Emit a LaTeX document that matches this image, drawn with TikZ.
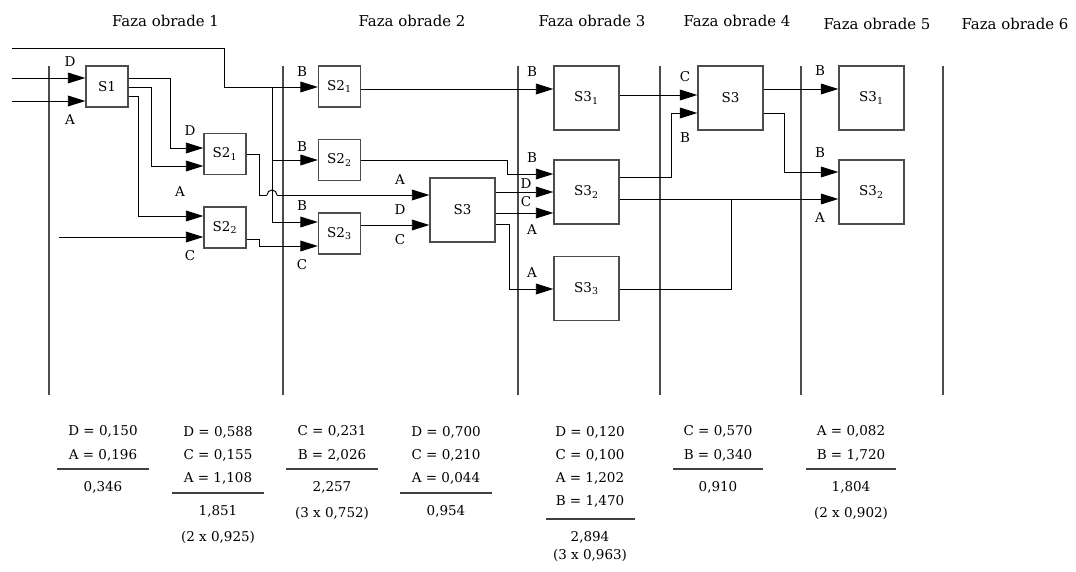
\documentclass[tikz,border=0pt]{standalone}
\usepackage{fontspec}
\setmainfont{DejaVu Serif}
\usetikzlibrary{arrows.meta}
\newcommand{\lblfont}{\fontsize{9.6pt}{16.5pt}\selectfont}
\newcommand{\hdrfont}{\fontsize{10.6pt}{13pt}\selectfont}

\begin{document}
\begin{tikzpicture}[x=0.025cm, y=-0.025cm, line width=0.7pt,
	box/.style={draw=black!70, line width=0.9pt, inner sep=0pt, minimum width=1.05cm, minimum height=1.03cm, font=\lblfont},
	bigbox/.style={box, minimum width=1.625cm, minimum height=1.6cm},
	arr/.style={-{Triangle[length=0.44cm, width=0.27cm]}},
	lbl/.style={inner sep=0pt, font=\lblfont},
	faza/.style={draw=black!70, line width=0.9pt},
	crta/.style={draw=black!75, line width=0.8pt},
	zaglavlje/.style={inner sep=0pt, font=\hdrfont},
	tab/.style={inner sep=0pt, align=center, font=\lblfont}]
	\useasboundingbox (0,0) rectangle (1076,571);

	\node[zaglavlje] (h1) at (165.5,21) {Faza obrade 1};
	\node[zaglavlje] (h2) at (412,21) {Faza obrade 2};
	\node[zaglavlje] (h3) at (592,21) {Faza obrade 3};
	\node[zaglavlje] (h4) at (737,21) {Faza obrade 4};
	\node[zaglavlje] (h5) at (877,24) {Faza obrade 5};
	\node[zaglavlje] (h6) at (1015,24) {Faza obrade 6};

	\foreach \x in {49,283,518,660,801,943}
		\draw[faza] (\x,66) -- (\x,395);

	\node[box] (s1) at (107,86.5) {S1};
	\node[box] (s21a) at (225,154) {S2\textsubscript{1}};
	\node[box] (s22a) at (225,227.5) {S2\textsubscript{2}};
	\node[box] (s21b) at (339.5,86.5) {S2\textsubscript{1}};
	\node[box] (s22b) at (339.5,160) {S2\textsubscript{2}};
	\node[box] (s23b) at (339.5,233.5) {S2\textsubscript{3}};
	\node[bigbox] (s3b) at (462.5,210) {S3};
	\node[bigbox] (s31c) at (586.5,98) {S3\textsubscript{1}};
	\node[bigbox] (s32c) at (586.5,192) {S3\textsubscript{2}};
	\node[bigbox] (s33c) at (586.5,288.5) {S3\textsubscript{3}};
	\node[bigbox] (s3d) at (730.5,98) {S3};
	\node[bigbox] (s31e) at (871.5,98) {S3\textsubscript{1}};
	\node[bigbox] (s32e) at (871.5,192) {S3\textsubscript{2}};

	\coordinate (ulazB) at (12,48);
	\coordinate (ulazD) at (12,78);
	\coordinate (ulazA) at (12,101);
	\coordinate (ulazC) at (59,237);
	\coordinate (grana) at (272,87);
	\coordinate (skokL) at (267,195);
	\coordinate (skokD) at (277,195);
	\coordinate (spoj) at (731,199);

	% faza 1
	\draw[arr] (ulazD) -- (s1.west |- ulazD);
	\draw[arr] (ulazA) -- (s1.west |- ulazA);
	\draw[arr] (ulazC) -- (s22a.west |- ulazC);
	\draw[arr] (s1.east |- 0,78) -| (170,148) -- (s21a.west |- 0,148);
	\draw[arr] (s1.east |- 0,87) -| (151,166) -- (s21a.west |- 0,166);
	\draw[arr] (s1.east |- 0,96) -| (138,216) -- (s22a.west |- 0,216);
	\draw (s21a.east |- 0,154) -| (259,195) -- (skokL);
	\draw (skokL) arc[start angle=180, end angle=0, radius=0.125cm];
	\draw[arr] (skokD) -- (s3b.west |- skokD);
	\draw[arr] (s22a.east |- 0,239) -| (259,246) -- (s23b.west |- 0,246);

	% faza 2
	\draw[arr] (ulazB) -| (224,87) -- (s21b.west |- grana);
	\draw (grana) -- (grana |- 0,222);
	\draw[arr] (grana |- s22b) -- (s22b);
	\draw[arr] (grana |- 0,222) -- (s23b.west |- 0,222);
	\draw[arr] (s23b.east |- 0,225) -- (s3b.west |- 0,225);
	\draw[arr] (s21b.east |- 0,89) -- (s31c.west |- 0,89);
	\draw[arr] (s22b.east |- 0,160) -| (507,174) -- (s32c.west |- 0,174);
	\draw[arr] (s3b.east |- 0,192) -- (s32c.west |- 0,192);
	\draw[arr] (s3b.east |- 0,213) -- (s32c.west |- 0,213);
	\draw[arr] (s3b.east |- 0,224) -| (509,289) -- (s33c.west |- 0,289);

	% faza 3
	\draw[arr] (s31c.east |- 0,95) -- (s3d.west |- 0,95);
	\draw[arr] (s32c.east |- 0,177) -| (671,113) -- (s3d.west |- 0,113);
	\draw[arr] (s32c.east |- spoj) -- (s32e.west |- spoj);
	\draw (s33c.east |- 0,289) -| (spoj);

	% faza 4
	\draw[arr] (s3d.east |- 0,89) -- (s31e.west |- 0,89);
	\draw[arr] (s3d.east |- 0,113) -| (784,172) -- (s32e.west |- 0,172);

	\node[lbl] (l1) at (70,62) {D};
	\node[lbl] (l2) at (70,120) {A};
	\node[lbl] (l3) at (190,131) {D};
	\node[lbl] (l4) at (180,192) {A};
	\node[lbl] (l5) at (190,256) {C};
	\node[lbl] (l6) at (302,72) {B};
	\node[lbl] (l7) at (302,147) {B};
	\node[lbl] (l8) at (302,206) {B};
	\node[lbl] (l9) at (302,265) {C};
	\node[lbl] (l10) at (400,180) {A};
	\node[lbl] (l11) at (400,210) {D};
	\node[lbl] (l12) at (400,240) {C};
	\node[lbl] (l13) at (532,72) {B};
	\node[lbl] (l14) at (532,158) {B};
	\node[lbl] (l15) at (526,184) {D};
	\node[lbl] (l16) at (526,202) {C};
	\node[lbl] (l17) at (532,230) {A};
	\node[lbl] (l18) at (532,273) {A};
	\node[lbl] (l19) at (685,77) {C};
	\node[lbl] (l20) at (685,138) {B};
	\node[lbl] (l21) at (820,71) {B};
	\node[lbl] (l22) at (820,153) {B};
	\node[lbl] (l23) at (820,218) {A};

	\node[tab] (k1) at (103,443.5) {D = 0,150\\A = 0,196};
	\draw[crta] (57,469) -- (149,469);
	\node[tab] (z1) at (103,487) {0,346};

	\node[tab] (k2) at (218,455.5) {D = 0,588\\C = 0,155\\A = 1,108};
	\draw[crta] (172,493) -- (264,493);
	\node[tab] (z2) at (218,511) {1,851};
	\node[tab] (p2) at (218,537) {(2 x 0,925)};

	\node[tab] (k3) at (332,443.5) {C = 0,231\\B = 2,026};
	\draw[crta] (286,469) -- (378,469);
	\node[tab] (z3) at (332,487) {2,257};
	\node[tab] (p3) at (332,513) {(3 x 0,752)};

	\node[tab] (k4) at (446,455.5) {D = 0,700\\C = 0,210\\A = 0,044};
	\draw[crta] (400,493) -- (492,493);
	\node[tab] (z4) at (446,511) {0,954};

	\node[tab] (k5) at (590,467) {D = 0,120\\C = 0,100\\A = 1,202\\B = 1,470};
	\draw[crta] (546,519) -- (635,519);
	\node[tab] (z5) at (590,537) {2,894};
	\node[tab] (p5) at (590,555) {(3 x 0,963)};

	\node[tab] (k6) at (718,443.5) {C = 0,570\\B = 0,340};
	\draw[crta] (673,469) -- (763,469);
	\node[tab] (z6) at (718,487) {0,910};

	\node[tab] (k7) at (851,443.5) {A = 0,082\\B = 1,720};
	\draw[crta] (806,469) -- (896,469);
	\node[tab] (z7) at (851,487) {1,804};
	\node[tab] (p7) at (851,513) {(2 x 0,902)};
\end{tikzpicture}
\end{document}
